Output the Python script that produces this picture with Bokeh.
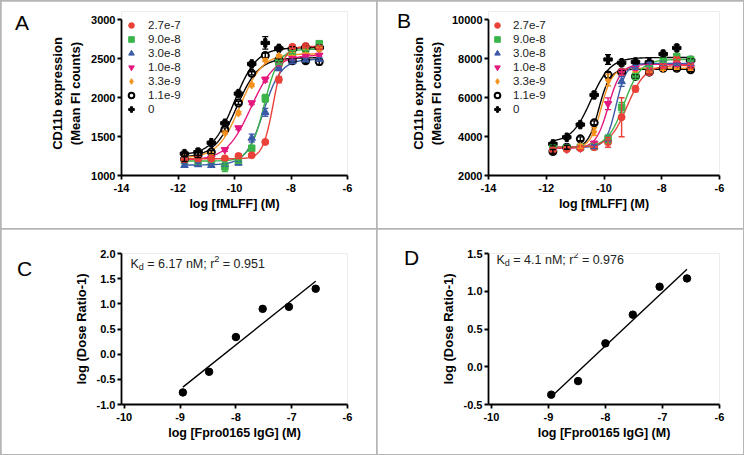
import numpy as np
from bokeh.plotting import figure
from bokeh.models import (ColumnDataSource, Whisker, TeeHead, Legend, LegendItem, Label,
                          FixedTicker, GridBox, NumeralTickFormatter, Range1d, Div)
from bokeh.embed import file_html
from bokeh.resources import INLINE

FONT = "Liberation Sans"

# ---------------- data ----------------
log_fmlff = [-11.77, -11.29, -10.82, -10.34, -9.86, -9.39, -8.91, -8.43, -7.95, -7.48, -7.00]
antibody_labels = ["2.7e-7", "9.0e-8", "3.0e-8", "1.0e-8", "3.3e-9", "1.1e-9", "0"]

# Panel A (mean FI counts)
a_27e7 = [1200, 1210, 1215, 1220, 1250, 1260, 1430, 2230, 2650, 2660, 2640]
a_90e8 = [1190, 1185, 1190, 1110, 1190, 1350, 1990, 2450, 2580, 2620, 2690]
a_30e8 = [1130, 1140, 1130, 1140, 1160, 1480, 1810, 2370, 2460, 2480, 2490]
a_10e8 = [1200, 1205, 1220, 1330, 1610, 1930, 2230, 2420, 2500, 2530, 2540]
a_33e9 = [1230, 1240, 1280, 1550, 1800, 2160, 2480, 2530, 2560, 2590, 2620]
a_11e9 = [1210, 1260, 1300, 1590, 1930, 2310, 2540, 2480, 2470, 2470, 2460]
a_zero = [1280, 1300, 1420, 1670, 2050, 2430, 2700, 2630, 2620, 2640, 2640]
a_err_27e7 = [0, 0, 0, 0, 30, 20, 20, 40, 20, 20, 20]
a_err_90e8 = [0, 0, 0, 60, 30, 30, 50, 20, 20, 20, 30]
a_err_30e8 = [20, 20, 20, 20, 20, 50, 50, 20, 20, 20, 20]
a_err_10e8 = [0, 0, 0, 20, 20, 20, 30, 20, 20, 20, 20]
a_err_33e9 = [0, 0, 0, 20, 20, 20, 20, 20, 20, 20, 20]
a_err_11e9 = [30, 30, 20, 20, 20, 20, 30, 20, 20, 30, 40]
a_err_zero = [30, 40, 20, 30, 30, 30, 80, 30, 30, 40, 30]
a_bottom = [1215, 1185, 1135, 1195, 1225, 1230, 1260]
a_top = [2655, 2620, 2490, 2545, 2560, 2510, 2640]
a_logec50 = [-8.62, -8.95, -8.98, -9.42, -9.80, -9.93, -10.00]
a_hill = [2.3, 1.7, 1.4, 1.0, 1.1, 1.1, 1.1]

# Panel B
b_27e7 = [3300, 3350, 3400, 3450, 3700, 4990, 6440, 7300, 7600, 7950, 7600]
b_90e8 = [3400, 3420, 3450, 3480, 3880, 5500, 7080, 7500, 7900, 8100, 7950]
b_30e8 = [3400, 3420, 3450, 3480, 3900, 6820, 7550, 7700, 7750, 7750, 7750]
b_10e8 = [3350, 3350, 3400, 3650, 5680, 7300, 7500, 7600, 7650, 7700, 7700]
b_33e9 = [3300, 3350, 3500, 4250, 6900, 7300, 7350, 7400, 7500, 7550, 7500]
b_11e9 = [3230, 3450, 3880, 4700, 7160, 7300, 7080, 7300, 7500, 7500, 7420]
b_zero = [3620, 3960, 4610, 6130, 7950, 7780, 7820, 7800, 8230, 8540, 7900]
b_err_27e7 = [0, 0, 0, 0, 250, 1000, 150, 100, 100, 100, 100]
b_err_90e8 = [0, 0, 0, 0, 200, 250, 150, 100, 100, 150, 100]
b_err_30e8 = [0, 0, 0, 100, 150, 250, 100, 100, 100, 100, 100]
b_err_10e8 = [0, 0, 0, 100, 300, 150, 100, 100, 100, 100, 100]
b_err_33e9 = [0, 0, 100, 200, 300, 150, 100, 100, 100, 100, 100]
b_err_11e9 = [100, 100, 100, 100, 150, 100, 100, 100, 100, 100, 100]
b_err_zero = [100, 100, 100, 150, 250, 150, 100, 100, 150, 150, 100]
b_bottom = [3450, 3450, 3450, 3400, 3400, 3400, 3700]
b_top = [7650, 7950, 7750, 7700, 7500, 7450, 8050]
b_logec50 = [-9.20, -9.30, -9.58, -9.85, -10.10, -10.18, -10.45]
b_hill = [1.4, 1.5, 2.5, 2.0, 2.3, 2.3, 1.3]

# Panels C and D (Schild plots)
log_igg = [-8.95, -8.48, -8.00, -7.52, -7.05, -6.57]
c_log_dr = [-0.76, -0.35, 0.34, 0.90, 0.94, 1.30]
d_log_dr = [-0.37, -0.19, 0.31, 0.69, 1.06, 1.17]
c_kd, c_r2 = "6.17", "0.951"
d_kd, d_r2 = "4.1", "0.976"

# ticks
ab_x_ticks = [-14, -12, -10, -8, -6]
a_y_ticks = [1000, 1500, 2000, 2500, 3000]
b_y_ticks = [2000, 4000, 6000, 8000, 10000]
cd_x_ticks = [-10, -9, -8, -7, -6]
c_y_ticks = [-1.0, -0.5, 0.0, 0.5, 1.0, 1.5, 2.0]
d_y_ticks = [-0.5, 0.0, 0.5, 1.0, 1.5]
panel_letters = ["A", "B", "C", "D"]

# ---------------- styles ----------------
colors = ["#ea4139", "#3bb44a", "#3b5aa7", "#e4187d", "#f5921e", "black", "black"]
markers = ["circle", "square", "triangle", "inverted_triangle", "diamond", "circle", "plus"]
msizes = [7, 6.5, 7.5, 7.5, 8, 7, 8.5]


def style_axes(p, xlabel, ylabel, xfmt="0", yfmt="0"):
    p.outline_line_color = None
    p.xgrid.visible = False
    p.ygrid.visible = False
    for ax in (p.xaxis[0], p.yaxis[0]):
        ax.axis_line_width = 1.8
        ax.axis_line_color = "black"
        ax.major_tick_line_width = 1.8
        ax.major_tick_line_color = "black"
        ax.major_tick_out = 4
        ax.major_tick_in = 0
        ax.minor_tick_line_color = None
        ax.major_label_text_font = FONT
        ax.major_label_text_font_style = "bold"
        ax.major_label_text_font_size = "11px"
        ax.major_label_text_color = "black"
        ax.axis_label_text_font = FONT
        ax.axis_label_text_font_style = "bold"
        ax.axis_label_text_color = "black"
    p.xaxis[0].axis_label = xlabel
    p.yaxis[0].axis_label = ylabel
    p.xaxis[0].axis_label_text_font_size = "12.5px"
    p.yaxis[0].axis_label_text_font_size = "13px"
    p.xaxis[0].major_label_standoff = 4
    p.yaxis[0].major_label_standoff = 2
    p.xaxis[0].axis_label_standoff = 2
    p.yaxis[0].axis_label_standoff = 5
    p.xaxis[0].formatter = NumeralTickFormatter(format=xfmt)
    p.yaxis[0].formatter = NumeralTickFormatter(format=yfmt)


def letter_div(letter, top, left):
    return Div(text=letter, width=26, height=26, margin=(top, 0, 0, left),
               styles={"font-family": FONT, "font-size": "21px", "color": "black",
                       "line-height": "normal"})


def curve_panel(width, height, borders, yr, yticks, series, errors, bottom, top, ec50, hill,
                legend_loc, legend_standoff, extra_top_px):
    frame_h = height - borders[2] - borders[3]
    # extend the range upward a few pixels (axis line still stops at the top tick)
    span = yr[1] - yr[0]
    y_end = yr[1] + extra_top_px * span / (frame_h - extra_top_px)
    p = figure(width=width, height=height, output_backend="svg", toolbar_location=None,
               x_range=Range1d(-14, -6), y_range=Range1d(yr[0], y_end),
               min_border_left=borders[0], min_border_right=borders[1],
               min_border_top=borders[2], min_border_bottom=borders[3])
    p.xaxis.ticker = FixedTicker(ticks=ab_x_ticks)
    p.yaxis.ticker = FixedTicker(ticks=yticks)
    style_axes(p, "log [fMLFF] (M)", "CD11b expression\n(Mean FI counts)")
    p.yaxis.bounds = (yr[0], yr[1])
    xs = np.linspace(log_fmlff[0] - 0.05, log_fmlff[-1], 300)
    for i in reversed(range(len(series))):
        ys = bottom[i] + (top[i] - bottom[i]) / (1 + 10 ** ((ec50[i] - xs) * hill[i]))
        p.line(xs, ys, line_color=colors[i], line_width=1.4)
    for i in reversed(range(len(series))):
        y = np.array(series[i], dtype=float)
        e = np.array(errors[i], dtype=float)
        m = e > 0
        src = ColumnDataSource(dict(x=np.array(log_fmlff)[m], upper=(y + e)[m], lower=(y - e)[m]))
        p.add_layout(Whisker(base="x", upper="upper", lower="lower", source=src,
                             line_color=colors[i], line_width=1.4, level="glyph",
                             upper_head=TeeHead(size=6, line_color=colors[i], line_width=1.4),
                             lower_head=TeeHead(size=6, line_color=colors[i], line_width=1.4)))
    renderers = []
    for i in reversed(range(len(series))):
        if i == 5:
            r = p.scatter(log_fmlff, series[i], marker="circle", size=msizes[i],
                          fill_color="white", line_color="black", line_width=2)
        else:
            r = p.scatter(log_fmlff, series[i], marker=markers[i], size=msizes[i],
                          fill_color=colors[i], line_color=colors[i], line_width=1)
        renderers.append((i, r))
    renderers.sort()
    items = [LegendItem(label=antibody_labels[i], renderers=[r]) for i, r in renderers]
    leg = Legend(items=items, location=legend_loc, glyph_width=18, glyph_height=14,
                 label_height=14, spacing=0, padding=0, margin=0, border_line_color=None,
                 background_fill_alpha=0, label_standoff=legend_standoff,
                 label_text_font=FONT, label_text_font_size="11.5px", label_text_color="#222222")
    p.add_layout(leg)
    return p


CHAR_W = {"K": 0.667, "d": 0.556, "=": 0.584, " ": 0.278, ".": 0.278, ";": 0.278,
          "n": 0.556, "M": 0.833, "r": 0.333}


def text_width(s, size):
    return sum(CHAR_W.get(ch, 0.556) for ch in s) * size


def kd_annotation(p, x0, y0, kd, r2):
    parts = [("K", 12.5, 0), ("d", 9, -3), (f" = {kd} nM; r", 12.5, 0), ("2", 9, 5),
             (f" = {r2}", 12.5, 0)]
    x = x0
    for txt, size, dy in parts:
        stripped = txt.lstrip(" ")
        x += text_width(txt[:len(txt) - len(stripped)], size)
        p.add_layout(Label(x=x, y=y0 + dy, x_units="screen", y_units="screen", text=stripped,
                           text_font=FONT, text_font_size=f"{size}px", text_color="#222222",
                           text_baseline="alphabetic", text_align="left"))
        x += text_width(stripped, size)


def schild_panel(width, height, borders, yr, yticks, yvals, kd, r2, ann):
    p = figure(width=width, height=height, output_backend="svg", toolbar_location=None,
               x_range=Range1d(-10.05, -6), y_range=Range1d(*yr),
               min_border_left=borders[0], min_border_right=borders[1],
               min_border_top=borders[2], min_border_bottom=borders[3])
    p.xaxis.ticker = FixedTicker(ticks=cd_x_ticks)
    p.yaxis.ticker = FixedTicker(ticks=yticks)
    style_axes(p, "log [Fpro0165 IgG] (M)", "log (Dose Ratio-1)", yfmt="0.0")
    slope, intercept = np.polyfit(log_igg, yvals, 1)
    lx = np.array([log_igg[0], log_igg[-1]])
    p.line(lx, slope * lx + intercept, line_color="black", line_width=1.4)
    p.scatter(log_igg, yvals, marker="circle", size=7.5, fill_color="black", line_color="black")
    kd_annotation(p, ann[0], ann[1], kd, r2)
    return p


pa = curve_panel(375, 227, (117, 20, 10, 53), (1000, 3000), a_y_ticks,
                 [a_27e7, a_90e8, a_30e8, a_10e8, a_33e9, a_11e9, a_zero],
                 [a_err_27e7, a_err_90e8, a_err_30e8, a_err_10e8, a_err_33e9, a_err_11e9, a_err_zero],
                 a_bottom, a_top, a_logec50, a_hill, (1, 59), 8, 8)
pb = curve_panel(366, 227, (110, 24, 10, 53), (2000, 10000), b_y_ticks,
                 [b_27e7, b_90e8, b_30e8, b_10e8, b_33e9, b_11e9, b_zero],
                 [b_err_27e7, b_err_90e8, b_err_30e8, b_err_10e8, b_err_33e9, b_err_11e9, b_err_zero],
                 b_bottom, b_top, b_logec50, b_hill, (0, 59), 7, 8)
pc = schild_panel(375, 225, (120, 29, 24, 50), (-1, 2), c_y_ticks, c_log_dr, c_kd, c_r2, (9, 141))
pd_ = schild_panel(366, 225, (111, 24, 24, 44), (-0.5, 1.5), d_y_ticks, d_log_dr, d_kd, d_r2, (8, 145))

la = letter_div(panel_letters[0], 10, 14)
lb = letter_div(panel_letters[1], 8, 20)
lc = letter_div(panel_letters[2], 28, 16)
ld = letter_div(panel_letters[3], 17, 27)

grid = GridBox(children=[(pa, 0, 0), (pb, 0, 1), (pc, 1, 0), (pd_, 1, 1),
                         (la, 0, 0), (lb, 0, 1), (lc, 1, 0), (ld, 1, 1)], spacing=1,
               styles={"background-color": "#b5b5b5", "padding": "1px"})

open("out.html", "w").write(file_html(grid, INLINE))
